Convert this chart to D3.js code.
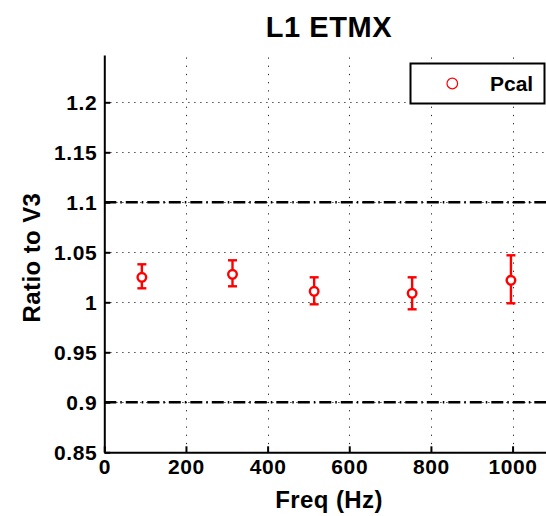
<!DOCTYPE html>
<html>
<head>
<meta charset="utf-8">
<script src="https://cdn.jsdelivr.net/npm/d3@7"></script>
<style>
  body { margin: 0; background: #fff; }
  svg { display: block; font-family: "Liberation Sans", Arial, Helvetica, sans-serif; }
</style>
</head>
<body>
<svg id="chart" width="546" height="516"></svg>
<script>
// data
var freqs   = [92, 314, 514, 754, 996];          // Hz
var ratio   = [1.025, 1.028, 1.011, 1.009, 1.022];
var errLow  = [1.014, 1.016, 0.998, 0.993, 0.999];
var errHigh = [1.038, 1.042, 1.025, 1.025, 1.047];
var refLines = [0.9, 1.1];
var xTicks = [0, 200, 400, 600, 800, 1000];
var yTicks = [0.85, 0.9, 0.95, 1, 1.05, 1.1, 1.15, 1.2];
var seriesName = "Pcal";

var svg = d3.select("#chart");
svg.append("rect").attr("width", 546).attr("height", 516).attr("fill", "#fff");

var x = d3.scaleLinear().domain([0, 1100]).range([104.3, 553.4]);
var y = d3.scaleLinear().domain([0.85, 1.2473]).range([452.3, 55]);

// dotted grid
svg.append("g").selectAll("line").data(yTicks.slice(1)).enter().append("line")
  .attr("x1", x(0)).attr("x2", x(1100))
  .attr("y1", d => Math.round(y(d)) + 0.5).attr("y2", d => Math.round(y(d)) + 0.5)
  .attr("stroke", "#222").attr("stroke-width", 1).attr("stroke-dasharray", "1.2,4.8");
svg.append("g").selectAll("line").data(xTicks.slice(1)).enter().append("line")
  .attr("x1", d => Math.round(x(d)) + 0.5).attr("x2", d => Math.round(x(d)) + 0.5)
  .attr("y1", y(0.85)).attr("y2", y(1.2473))
  .attr("stroke", "#222").attr("stroke-width", 1).attr("stroke-dasharray", "1.2,7");

// dash-dot limits
svg.append("g").selectAll("line").data(refLines).enter().append("line")
  .attr("x1", x(0)).attr("x2", x(1100))
  .attr("y1", d => y(d)).attr("y2", d => y(d))
  .attr("stroke", "#000").attr("stroke-width", 2.5).attr("stroke-dasharray", "12,4,1.5,4");

// error bars
var pts = freqs.map((f, i) => ({f: f, v: ratio[i], lo: errLow[i], hi: errHigh[i]}));
var eb = svg.append("g").attr("stroke", "#ff0000").attr("stroke-width", 2.4).attr("fill", "none");
eb.selectAll(".stem").data(pts).enter().append("line")
  .attr("x1", d => x(d.f)).attr("x2", d => x(d.f))
  .attr("y1", d => y(d.lo)).attr("y2", d => y(d.hi));
eb.selectAll(".capT").data(pts).enter().append("line")
  .attr("x1", d => x(d.f) - 4.5).attr("x2", d => x(d.f) + 4.5)
  .attr("y1", d => y(d.hi)).attr("y2", d => y(d.hi));
eb.selectAll(".capB").data(pts).enter().append("line")
  .attr("x1", d => x(d.f) - 4.5).attr("x2", d => x(d.f) + 4.5)
  .attr("y1", d => y(d.lo)).attr("y2", d => y(d.lo));
eb.selectAll("circle").data(pts).enter().append("circle")
  .attr("cx", d => x(d.f)).attr("cy", d => y(d.v)).attr("r", 4.3)
  .attr("fill", "#fff");

// axes, ticks pointing inward
var yAxis = svg.append("g").attr("transform", "translate(104.3,0)")
  .call(d3.axisLeft(y).tickValues(yTicks).tickSizeInner(-6).tickSizeOuter(0).tickPadding(7)
    .tickFormat(d => String(+d.toFixed(2))));
var xAxis = svg.append("g").attr("transform", "translate(0,452.3)")
  .call(d3.axisBottom(x).tickValues(xTicks).tickSizeInner(-6).tickSizeOuter(0).tickPadding(6)
    .tickFormat(d3.format("d")));
[yAxis, xAxis].forEach(function(a) {
  a.select(".domain").attr("stroke", "#000").attr("stroke-width", 2);
  a.selectAll(".tick line").attr("stroke", "#000").attr("stroke-width", 2);
  a.selectAll(".tick text").attr("fill", "#000").attr("font-size", 21).attr("font-weight", "bold")
    .attr("font-family", "Liberation Sans, Arial, sans-serif").attr("letter-spacing", 0.6);
});
yAxis.selectAll(".tick text").attr("dy", "0.36em");
xAxis.selectAll(".tick text").attr("dy", "0.76em");

// titles
svg.append("text").attr("x", 329).attr("y", 37).attr("text-anchor", "middle")
  .attr("font-size", 29).attr("font-weight", "bold").attr("letter-spacing", 0.6).text("L1 ETMX");
svg.append("text").attr("x", 329).attr("y", 508).attr("text-anchor", "middle")
  .attr("font-size", 24).attr("font-weight", "bold").attr("letter-spacing", 0.4).text("Freq (Hz)");
svg.append("text").attr("transform", "translate(40,257.5) rotate(-90)").attr("text-anchor", "middle")
  .attr("font-size", 24).attr("font-weight", "bold").attr("letter-spacing", 0.4).text("Ratio to V3");

// legend
var lg = svg.append("g");
lg.append("rect").attr("x", 410.5).attr("y", 63.5).attr("width", 134).attr("height", 40)
  .attr("fill", "#fff").attr("stroke", "#000").attr("stroke-width", 2);
lg.append("circle").attr("cx", 452.3).attr("cy", 83.5).attr("r", 5.3)
  .attr("fill", "none").attr("stroke", "#ff0000").attr("stroke-width", 1.2);
lg.append("text").attr("x", 490).attr("y", 91).attr("font-size", 21).attr("font-weight", "bold")
  .text(seriesName);
</script>
</body>
</html>
